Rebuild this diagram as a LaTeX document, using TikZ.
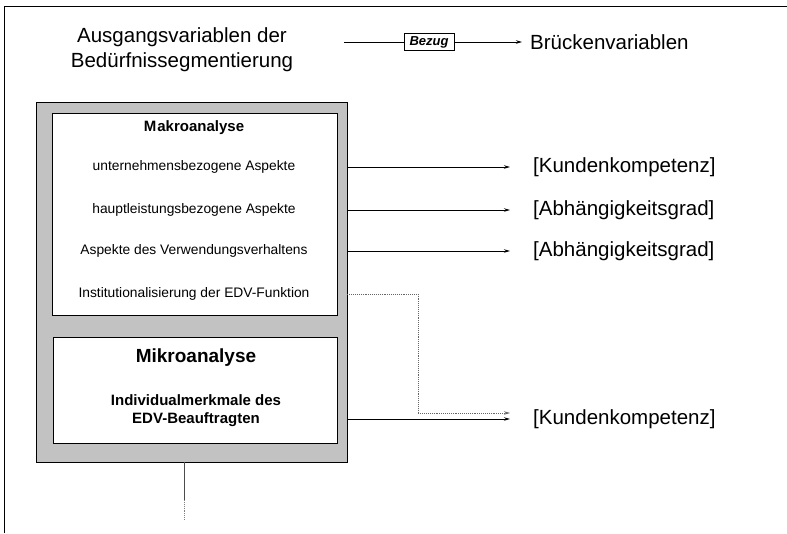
\documentclass[tikz,border=0pt]{standalone}
\usepackage{fontspec}
\setmainfont{Liberation Sans}
\usetikzlibrary{arrows.meta}

\tikzset{
  linie/.style={line width=0.9pt},
  pfeil/.style={line width=0.9pt, -{Stealth[length=6pt,width=3.5pt]}},
  grau/.style={draw, line width=0.9pt, fill=black!24, inner sep=0pt},
  weiss/.style={draw, line width=0.9pt, fill=white, inner sep=0pt},
  gross/.style={font=\fontsize{20.5}{25}\selectfont, inner sep=0pt},
  klein/.style={font=\fontsize{13.8}{15}\selectfont, inner sep=0pt},
  bruecke/.style={gross, anchor=west, inner xsep=23pt}
}

\begin{document}
\begin{tikzpicture}[x=1pt,y=-1pt]
\useasboundingbox (0,0) rectangle (787,533);

% Rahmen der Seite
\draw [linie] (4,533)--(4,6)--(787,6);

% Kopfzeile
\node [gross, align=center] (ausgang) at (182,50) {Ausgangsvariablen der\\Bed\"urfnissegmentierung};
\coordinate (bstart) at (344,42);
\node [draw, line width=0.9pt, minimum width=50pt, minimum height=17pt, inner sep=1pt, font=\fontsize{13}{14}\selectfont\bfseries\itshape] (bezug) at (429,42) {Bezug};
\node [gross, anchor=west, inner xsep=8pt] (brueckenvar) at (522,42) {Br\"uckenvariablen};
\draw [linie] (bstart)--(bezug);
\draw [pfeil] (bezug)--(brueckenvar);

% grauer Kasten
\node [grau, minimum width=311pt, minimum height=360pt] (rahmen) at (191.5,282) {};

% Makroanalyse
\node [weiss, minimum width=285pt, minimum height=202pt] (makro) at (194.5,214) {};
\node [font=\fontsize{15}{17}\selectfont\bfseries, inner sep=0pt] (makrotitel) at (194,128) {M\kern1pt akroanalyse};
\node [klein] (unternehmen) at (194,167) {unternehmensbezogene Aspekte};
\node [klein] (hauptleistung) at (194,210) {hauptleistungsbezogene Aspekte};
\node [klein] (verwendung) at (194,251) {Aspekte des Verwendungsverhaltens};
\node [klein] (institution) at (194,294) {Institutionalisierung der EDV-Funktion};

% Mikroanalyse
\node [weiss, minimum width=284pt, minimum height=106pt] (mikro) at (195,390) {};
\node [font=\fontsize{19}{21}\selectfont\bfseries, inner sep=0pt] (mikrotitel) at (196,358) {Mikroanalyse};
\node [align=center, font=\fontsize{15}{18}\selectfont\bfseries, inner sep=0pt] (individual) at (196,411) {Individualmerkmale des\\EDV-Beauftragten};

% Brueckenvariablen rechts
\node [bruecke] (kunde) at (510,167) {[Kundenkompetenz]};
\node [bruecke] (abh) at (510,210) {[Abh\"angigkeitsgrad]};
\node [bruecke] (abhzwei) at (510,251) {[Abh\"angigkeitsgrad]};
\node [bruecke] (kundezwei) at (510,419) {[Kundenkompetenz]};

\draw [pfeil] (rahmen.east |- kunde)--(kunde);
\draw [pfeil] (rahmen.east |- abh)--(abh);
\draw [pfeil] (rahmen.east |- abhzwei)--(abhzwei);
\draw [pfeil] (rahmen.east |- kundezwei)--(kundezwei);

% gepunktete Verbindung
\coordinate (knick) at (418,413);
\draw [black!60, densely dotted, line width=0.9pt, -{Stealth[length=6pt,width=3.5pt]}] (rahmen.east |- institution) -| (knick)--(knick -| kundezwei.west);

% Linie nach unten
\coordinate (unten) at (184,500);
\draw [linie, black!70] (rahmen.south -| unten)--(unten);
\draw [black!50, densely dotted, line width=0.9pt] (unten)--(184,520);

\end{tikzpicture}
\end{document}
